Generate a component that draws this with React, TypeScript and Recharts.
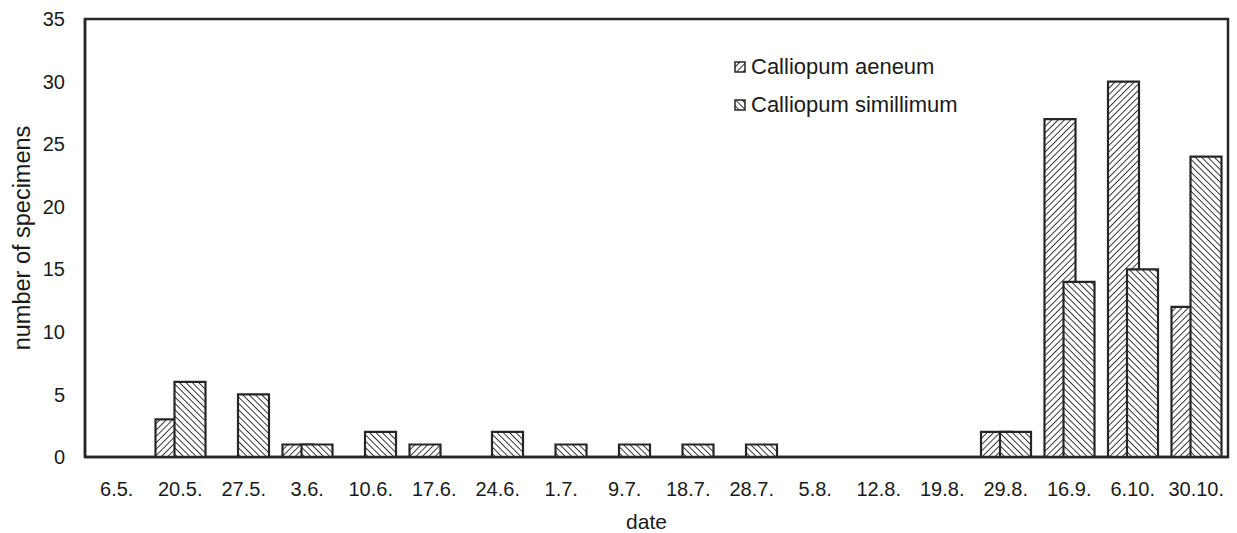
import { Bar, BarChart, ReferenceArea, XAxis, YAxis } from 'recharts'

const dates = ['6.5.', '20.5.', '27.5.', '3.6.', '10.6.', '17.6.', '24.6.', '1.7.', '9.7.', '18.7.', '28.7.', '5.8.', '12.8.', '19.8.', '29.8.', '16.9.', '6.10.', '30.10.']
const aeneum = [0, 3, 0, 1, 0, 1, 0, 0, 0, 0, 0, 0, 0, 0, 2, 27, 30, 12]
const simillimum = [0, 6, 5, 1, 2, 0, 2, 1, 1, 1, 1, 0, 0, 0, 2, 14, 15, 24]
const yTicks = [0, 5, 10, 15, 20, 25, 30, 35]

const data = dates.map((d, i) => ({ date: d, aeneum: aeneum[i], simillimum: simillimum[i] }))

const font = '"Liberation Sans", Arial, sans-serif'
const ink = '#262626'
const txt = '#1a1a1a'

const Hatch = ({ id, angle }: { id: string; angle: number }) => (
	<pattern id={id} patternUnits='userSpaceOnUse' width={4.5} height={4.5} patternTransform={`rotate(${angle})`}>
		<rect width={4.5} height={4.5} fill='#fff' />
		<line x1={0} y1={0} x2={0} y2={4.5} stroke={ink} strokeWidth={1.8} />
	</pattern>
)

const legendItems = [
	{ key: 'a', name: 'Calliopum aeneum', angle: 45 },
	{ key: 's', name: 'Calliopum simillimum', angle: -45 },
]

// legend drawn as an overlay so it takes no space from the plot
const LegendBox = () => (
	<div style={{ position: 'absolute', left: 734, top: 48, fontFamily: font, fontSize: 22, color: txt }}>
		{legendItems.map((it) => (
			<div key={it.key} style={{ display: 'flex', alignItems: 'center', height: 38 }}>
				<svg width={12} height={12} style={{ marginRight: 5 }}>
					<defs>
						<Hatch id={`lg-${it.key}`} angle={it.angle} />
					</defs>
					<rect x={1} y={1} width={10} height={10} fill={`url(#lg-${it.key})`} stroke={ink} strokeWidth={1.5} />
				</svg>
				<span>{it.name}</span>
			</div>
		))}
	</div>
)

const App = () => {
	return (
		<div style={{ position: 'absolute', left: 0, top: 0, width: 1237, height: 533, background: '#fff' }}>
			<BarChart
				width={1237}
				height={533}
				data={data}
				margin={{ top: 19, right: 9, left: 0, bottom: 0 }}
				barSize={31}
				barGap={-12}
			>
				<defs>
					<Hatch id='hatch-a' angle={45} />
					<Hatch id='hatch-s' angle={-45} />
				</defs>
				<XAxis
					dataKey='date'
					height={76}
					tickLine={false}
					axisLine={{ stroke: ink, strokeWidth: 2.5 }}
					tick={{ fill: txt, fontSize: 20, fontFamily: font }}
					tickMargin={19}
					interval={0}
					label={{ value: 'date', position: 'insideBottom', offset: 4, dx: -10, fill: txt, fontSize: 21, fontFamily: font }}
				/>
				<YAxis
					width={85}
					domain={[0, 35]}
					ticks={yTicks}
					tickLine={false}
					axisLine={{ stroke: ink, strokeWidth: 2.5 }}
					tick={{ fill: txt, fontSize: 20, fontFamily: font }}
					tickMargin={14}
					label={{ value: 'number of specimens', angle: -90, position: 'insideLeft', offset: 22, style: { textAnchor: 'middle' }, fill: txt, fontSize: 23.5, fontFamily: font }}
				/>
				<ReferenceArea y1={0} y2={35} fill='none' stroke={ink} strokeWidth={2.5} ifOverflow='extendDomain' />
				<Bar dataKey='aeneum' name='Calliopum aeneum' fill='url(#hatch-a)' stroke={ink} strokeWidth={2.2} isAnimationActive={false} />
				<Bar dataKey='simillimum' name='Calliopum simillimum' fill='url(#hatch-s)' stroke={ink} strokeWidth={2.2} isAnimationActive={false} />
			</BarChart>
			<LegendBox />
		</div>
	)
}

export default App
